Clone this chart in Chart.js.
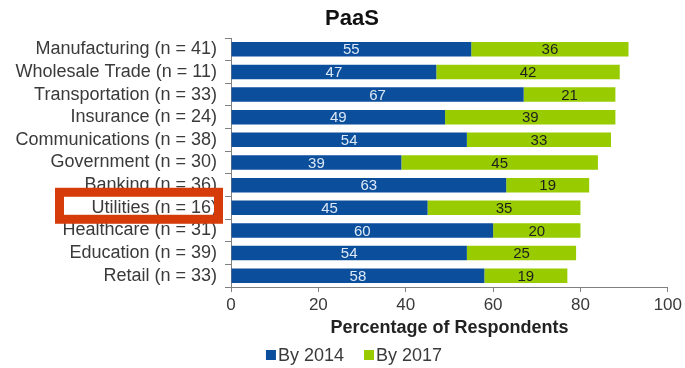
<!DOCTYPE html>
<html>
<head>
<meta charset="utf-8">
<script src="https://cdn.jsdelivr.net/npm/chart.js@4/dist/chart.umd.min.js"></script>
<style>
  html, body { margin: 0; padding: 0; background: #ffffff; }
  #wrap { width: 685px; height: 368px; position: relative; }
</style>
</head>
<body>
<div id="wrap"><canvas id="c" width="685" height="368"></canvas></div>
<script>
// Industries surveyed (sample size in the label)
const industries = [
  'Manufacturing (n = 41)',
  'Wholesale Trade (n = 11)',
  'Transportation (n = 33)',
  'Insurance (n = 24)',
  'Communications (n = 38)',
  'Government (n = 30)',
  'Banking (n = 36)',
  'Utilities (n = 16)',
  'Healthcare (n = 31)',
  'Education (n = 39)',
  'Retail (n = 33)'
];
// Share of respondents adopting PaaS, per time frame
const by2014 = [55, 47, 67, 49, 54, 39, 63, 45, 60, 54, 58];
const by2017 = [36, 42, 21, 39, 33, 45, 19, 35, 20, 25, 19];
const seriesNames = ['By 2014', 'By 2017'];
const xTicks = [0, 20, 40, 60, 80, 100];
const chartTitle = 'PaaS';
const highlighted = 'Utilities (n = 16)';

const BLUE = '#0b4f9c';
const GREEN = '#99cc00';
const TEXT = '#3a3a3a';
const AXIS = '#808080';
const FONT = '"Liberation Sans", Arial, sans-serif';

// Values written in the middle of each bar segment
const segmentLabels = {
  id: 'segmentLabels',
  afterDatasetsDraw(chart) {
    const ctx = chart.ctx;
    ctx.save();
    ctx.font = '15px ' + FONT;
    ctx.textAlign = 'center';
    ctx.textBaseline = 'middle';
    chart.data.datasets.forEach((ds, i) => {
      const meta = chart.getDatasetMeta(i);
      ctx.fillStyle = i === 0 ? '#dde8f6' : '#1e1e1e';
      meta.data.forEach((bar, j) => {
        const cx = (bar.x + bar.base) / 2;
        ctx.fillText(String(ds.data[j]), cx, bar.y + 1);
      });
    });
    ctx.restore();
  }
};

// Heading above the plot
const heading = {
  id: 'heading',
  afterDraw(chart) {
    const ctx = chart.ctx;
    ctx.save();
    ctx.font = 'bold 22px ' + FONT;
    ctx.fillStyle = '#111';
    ctx.textAlign = 'center';
    ctx.textBaseline = 'middle';
    ctx.fillText(chartTitle, 352, 19);
    ctx.restore();
  }
};

// Compact legend under the axis title: small square, tight gap, then the name
const compactLegend = {
  id: 'compactLegend',
  afterDraw(chart) {
    const ctx = chart.ctx;
    const box = 10, gap = 2, between = 20, cx = 354, cy = 355;
    ctx.save();
    ctx.font = '18px ' + FONT;
    ctx.textBaseline = 'middle';
    const items = chart.data.datasets.map(ds => ({
      text: ds.label, color: ds.backgroundColor, w: ctx.measureText(ds.label).width
    }));
    const total = items.reduce((s, it) => s + box + gap + it.w, 0) + between * (items.length - 1);
    let x = cx - total / 2;
    items.forEach(it => {
      ctx.fillStyle = it.color;
      ctx.fillRect(x, cy - box / 2, box, box);
      x += box + gap;
      ctx.fillStyle = TEXT;
      ctx.fillText(it.text, x, cy + 1);
      x += it.w + between;
    });
    ctx.restore();
  }
};

// Frame drawn around one industry label
const labelFrame = {
  id: 'labelFrame',
  afterDraw(chart) {
    const y = chart.scales.y;
    const idx = industries.indexOf(highlighted);
    if (idx < 0) return;
    const cy = y.getPixelForValue(idx);
    const ctx = chart.ctx;
    ctx.save();
    ctx.strokeStyle = '#d63c0a';
    ctx.lineWidth = 9;
    const right = y.right - 8;
    ctx.strokeRect(55 + 4.5, cy - 20 + 4.5, right - 55 - 9, 36 - 9);
    ctx.restore();
  }
};

new Chart(document.getElementById('c'), {
  type: 'bar',
  data: {
    labels: industries,
    datasets: [
      { label: seriesNames[0], data: by2014, backgroundColor: BLUE, borderWidth: 0,
        barPercentage: 0.64, categoryPercentage: 1.0 },
      { label: seriesNames[1], data: by2017, backgroundColor: GREEN, borderWidth: 0,
        barPercentage: 0.64, categoryPercentage: 1.0 }
    ]
  },
  options: {
    indexAxis: 'y',
    responsive: false,
    animation: false,
    devicePixelRatio: 1,
    layout: { padding: { left: 0, right: 17, top: 38, bottom: 29 } },
    scales: {
      x: {
        stacked: true,
        min: 0, max: 100,
        afterBuildTicks(scale) { scale.ticks = xTicks.map(v => ({ value: v })); },
        afterFit(scale) { scale.height = 52; },
        grid: { drawOnChartArea: false, drawTicks: true, tickLength: 5, tickColor: AXIS },
        border: { display: true, color: AXIS, width: 1 },
        ticks: { color: TEXT, font: { family: FONT, size: 17 }, padding: 3 },
        title: {
          display: true, text: 'Percentage of Respondents', color: '#222',
          font: { family: FONT, size: 18, weight: 'bold' },
          padding: { top: 0, bottom: 0 }
        }
      },
      y: {
        stacked: true,
        afterFit(scale) { scale.width = 231; },
        grid: { drawOnChartArea: false, drawTicks: true, tickLength: 6, tickColor: AXIS, offset: true },
        border: { display: true, color: AXIS, width: 1 },
        ticks: { color: TEXT, font: { family: FONT, size: 18 }, padding: 8, autoSkip: false }
      }
    },
    plugins: {
      title: { display: false },
      legend: { display: false },
      tooltip: { enabled: false }
    }
  },
  plugins: [segmentLabels, heading, compactLegend, labelFrame]
});
</script>
</body>
</html>
